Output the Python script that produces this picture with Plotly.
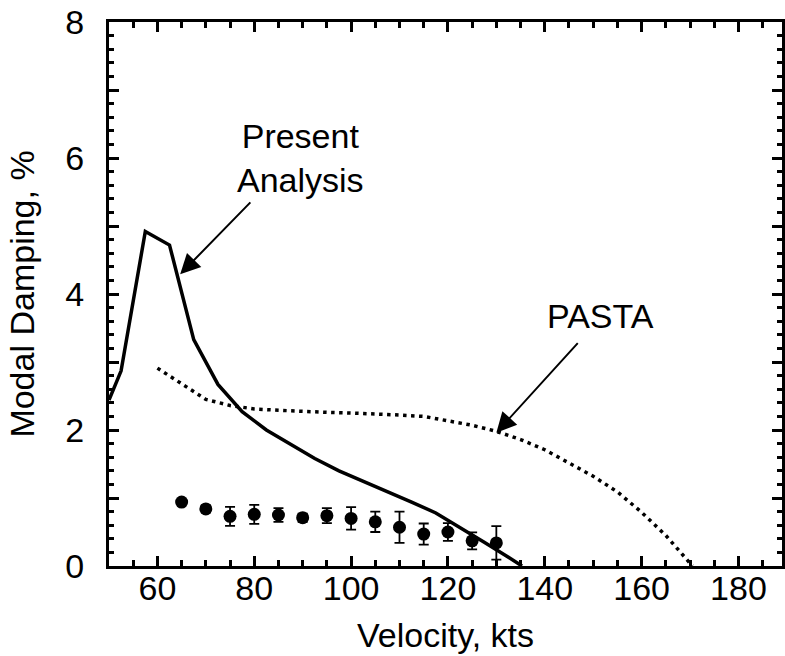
import plotly.graph_objects as go

# Present Analysis (solid line)
pa_v = [50, 52.5, 57.5, 62.5, 67.5, 72.5, 77.5, 82.5, 87.5, 92.5, 97.5, 102.5,
        107.5, 112.5, 117.5, 122.5, 127.5, 132.5, 135.3]
pa_d = [2.44, 2.87, 4.92, 4.72, 3.33, 2.67, 2.27, 2.00, 1.79, 1.58, 1.40, 1.25,
        1.10, 0.94, 0.78, 0.57, 0.35, 0.13, 0.0]

# PASTA (dotted line)
pasta_v = [60, 65, 70, 75, 80, 85, 90, 95, 100, 105, 110, 115, 120, 125, 130,
           135, 140, 145, 150, 155, 160, 165, 170, 170.5]
pasta_d = [2.91, 2.68, 2.45, 2.36, 2.31, 2.29, 2.27, 2.26, 2.25, 2.24, 2.22, 2.20,
           2.14, 2.07, 1.98, 1.86, 1.71, 1.52, 1.32, 1.09, 0.79, 0.45, 0.05, 0.0]

# Test data with error bars
test_v = [65, 70, 75, 80, 85, 90, 95, 100, 105, 110, 115, 120, 125, 130]
test_d = [0.94, 0.84, 0.73, 0.76, 0.75, 0.71, 0.74, 0.70, 0.65, 0.57, 0.47, 0.50, 0.37, 0.34]
test_err = [0.03, 0.05, 0.14, 0.14, 0.10, 0.06, 0.11, 0.165, 0.15, 0.23, 0.155, 0.13, 0.125, 0.245]

y_tickvals = [0, 1, 2, 3, 4, 5, 6, 7, 8]
y_ticktext = ["0", "", "2", "", "4", "", "6", "", "8"]
x_tickvals = [60, 80, 100, 120, 140, 160, 180]

FONT = "Liberation Sans, Arial, sans-serif"
FS = 34

fig = go.Figure()
fig.add_trace(go.Scatter(x=pa_v, y=pa_d, mode="lines",
                         line=dict(color="black", width=3.5)))
fig.add_trace(go.Scatter(x=pasta_v, y=pasta_d, mode="lines",
                         line=dict(color="black", width=3.5, dash="3.5px,4.5px")))
fig.add_trace(go.Scatter(x=test_v, y=test_d, mode="markers",
                         marker=dict(color="black", size=13),
                         error_y=dict(type="data", array=test_err, visible=True,
                                      color="black", thickness=1.8, width=5)))

fig.add_annotation(x=89.6, y=6.0, text="Present<br>Analysis", showarrow=False,
                   font=dict(size=FS, color="black", family=FONT))
fig.add_annotation(x=64.7, y=4.29, ax=79.5, ay=5.37, axref="x", ayref="y",
                   text="", showarrow=True, arrowhead=2, arrowsize=2,
                   arrowwidth=2, arrowcolor="black")
fig.add_annotation(x=151.5, y=3.67, text="PASTA", showarrow=False,
                   font=dict(size=FS, color="black", family=FONT))
fig.add_annotation(x=130, y=1.96, ax=147.1, ay=3.30, axref="x", ayref="y",
                   text="", showarrow=True, arrowhead=2, arrowsize=2,
                   arrowwidth=2, arrowcolor="black")

fig.update_layout(
    width=785, height=656,
    margin=dict(l=109, r=0, t=22, b=90),
    paper_bgcolor="white", plot_bgcolor="white",
    showlegend=False,
    font=dict(family=FONT, size=FS, color="black"),
    xaxis=dict(range=[50, 189], tickmode="array", tickvals=x_tickvals,
               ticks="inside", ticklen=10, tickwidth=2.5, tickcolor="black",
               showline=True, linewidth=3, linecolor="black", mirror="allticks",
               showgrid=False, zeroline=False,
               minor=dict(dtick=5, tick0=0, ticks="inside", ticklen=6,
                          tickwidth=2.5, tickcolor="black", showgrid=False),
               tickfont=dict(size=FS), ticklabelstandoff=-10,
               title=dict(text="Velocity, kts", font=dict(size=FS), standoff=18)),
    yaxis=dict(range=[0, 8], tickmode="array", tickvals=y_tickvals, ticktext=y_ticktext,
               ticks="inside", ticklen=10, tickwidth=2.5, tickcolor="black",
               showline=True, linewidth=3, linecolor="black", mirror="allticks",
               showgrid=False, zeroline=False,
               minor=dict(dtick=0.2, tick0=0, ticks="inside", ticklen=5,
                          tickwidth=2.5, tickcolor="black", showgrid=False),
               tickfont=dict(size=FS), ticklabelstandoff=15,
               title=dict(text="Modal Damping, %", font=dict(size=FS), standoff=21)),
)

fig.write_html("out.html")
